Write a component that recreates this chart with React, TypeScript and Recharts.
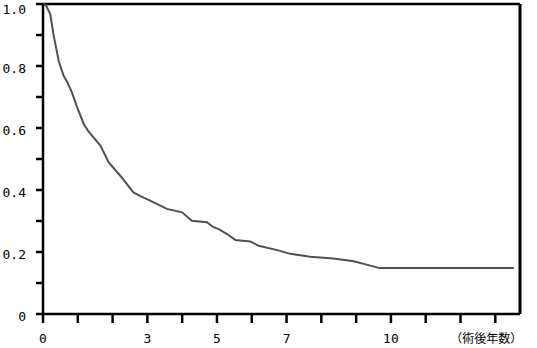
import React from 'react';
import { LineChart, Line, XAxis, YAxis, ReferenceLine } from 'recharts';

const years = [0, 0.09, 0.21, 0.3, 0.45, 0.59, 0.7, 0.83, 0.98, 1.17, 1.3, 1.45, 1.65, 1.89, 2.22, 2.6, 2.8, 3.08, 3.56, 4.0, 4.28, 4.71, 4.9, 5.05, 5.29, 5.53, 5.96, 6.2, 6.73, 7.11, 7.68, 8.35, 8.93, 9.41, 9.68, 13.53];
const survival = [1.0, 0.995, 0.967, 0.903, 0.817, 0.769, 0.748, 0.715, 0.667, 0.613, 0.59, 0.57, 0.543, 0.489, 0.446, 0.392, 0.38, 0.366, 0.339, 0.328, 0.301, 0.296, 0.28, 0.274, 0.258, 0.239, 0.234, 0.22, 0.206, 0.194, 0.185, 0.179, 0.17, 0.156, 0.148, 0.148];

const xTicks = [0, 1, 2, 3, 4, 5, 6, 7, 8, 9, 10, 11, 12, 13];
const xTickLabels: Record<number, string> = { 0: '0', 3: '3', 5: '5', 7: '7', 10: '10', 13: '（術後年数）' };
const yTicks = [0, 0.1, 0.2, 0.3, 0.4, 0.5, 0.6, 0.7, 0.8, 0.9, 1.0];
const yTickLabels: Record<string, string> = { '0': '0', '0.2': '0.2', '0.4': '0.4', '0.6': '0.6', '0.8': '0.8', '1': '1.0' };
const xMax = 13.71;

const data = years.map((t, i) => ({ t, s: survival[i] }));

const mono = '"DejaVu Sans Mono", monospace';

const XTick = (props: any) => {
  const { x, y, payload } = props;
  const label = xTickLabels[payload.value];
  if (!label) return null;
  if (payload.value === 13) {
    return (
      <text x={x - 9} y={y + 18} textAnchor="middle" fontSize={12} fontFamily='"Noto Sans CJK JP", sans-serif' fill="#000">
        {label}
      </text>
    );
  }
  return (
    <text x={x} y={y + 18} textAnchor="middle" fontSize={13} fontFamily={mono} fill="#000">
      {label}
    </text>
  );
};

const YTick = (props: any) => {
  const { y, payload } = props;
  const key = String(Math.round(payload.value * 10) / 10);
  const label = yTickLabels[key];
  if (!label) return null;
  const cy = Math.max(y + 2.5, 9.5);
  return (
    <text x={26} y={cy + 4.7} textAnchor="end" fontSize={13} fontFamily={mono} fill="#000">
      {label}
    </text>
  );
};

export default function App() {
  return (
    <div style={{ position: 'absolute', left: 0, top: 0, background: '#fff' }}>
      <LineChart width={537} height={348} data={data} margin={{ top: 4, right: 17, left: 0, bottom: 0 }}>
        <XAxis
          dataKey="t"
          type="number"
          domain={[0, xMax]}
          ticks={xTicks}
          interval={0}
          allowDataOverflow
          height={34}
          tickSize={9}
          axisLine={{ stroke: '#000', strokeWidth: 2.5 }}
          tickLine={{ stroke: '#000', strokeWidth: 2.5 }}
          tick={<XTick />}
        />
        <YAxis
          type="number"
          domain={[0, 1]}
          ticks={yTicks}
          interval={0}
          width={43}
          tickSize={7}
          axisLine={{ stroke: '#000', strokeWidth: 2.5 }}
          tickLine={{ stroke: '#000', strokeWidth: 2.5 }}
          tick={<YTick />}
        />
        <ReferenceLine y={1} stroke="#000" strokeWidth={2.5} />
        <ReferenceLine x={xMax} stroke="#000" strokeWidth={3} />
        <Line type="linear" dataKey="s" stroke="#505050" strokeWidth={2} dot={false} isAnimationActive={false} />
      </LineChart>
    </div>
  );
}
